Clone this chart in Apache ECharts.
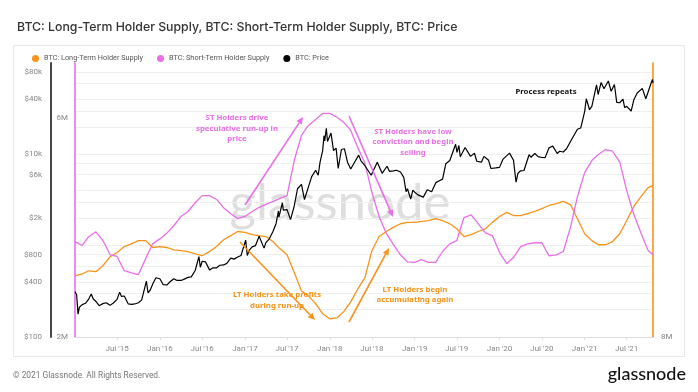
<!DOCTYPE html>
<html><head><meta charset="utf-8">
<script src="https://cdn.jsdelivr.net/npm/echarts@6/dist/echarts.min.js"></script>
<style>html,body{margin:0;padding:0;background:#fff}#c{width:698px;height:392px}</style>
</head><body><div id="c"></div>
<script>
const titleText = 'BTC: Long-Term Holder Supply, BTC: Short-Term Holder Supply, BTC: Price';
const seriesNames = ['BTC: Long-Term Holder Supply', 'BTC: Short-Term Holder Supply', 'BTC: Price'];

const supplyDates = [
 '2015-01-01','2015-02-01','2015-03-01','2015-04-01','2015-05-01','2015-06-01','2015-07-01','2015-08-01','2015-09-01','2015-10-01','2015-11-01','2015-12-01',
 '2016-01-01','2016-02-01','2016-03-01','2016-04-01','2016-05-01','2016-06-01','2016-07-01','2016-08-01','2016-09-01','2016-10-01','2016-11-01','2016-12-01',
 '2017-01-01','2017-02-01','2017-03-01','2017-04-01','2017-05-01','2017-06-01','2017-07-01','2017-08-01','2017-09-01','2017-10-01','2017-11-01','2017-12-01',
 '2018-01-01','2018-02-01','2018-03-01','2018-04-01','2018-05-01','2018-06-01','2018-07-01','2018-08-01','2018-09-01','2018-10-01','2018-11-01','2018-12-01',
 '2019-01-01','2019-02-01','2019-03-01','2019-04-01','2019-05-01','2019-06-01','2019-07-01','2019-08-01','2019-09-01','2019-10-01','2019-11-01','2019-12-01',
 '2020-01-01','2020-02-01','2020-03-01','2020-04-01','2020-05-01','2020-06-01','2020-07-01','2020-08-01','2020-09-01','2020-10-01','2020-11-01','2020-12-01',
 '2021-01-01','2021-02-01','2021-03-01','2021-04-01','2021-05-01','2021-06-01','2021-07-01','2021-08-01','2021-09-01','2021-10-01','2021-10-22'
];
// millions of BTC
const lthSupply = [
 9.34,9.38,9.45,9.43,9.56,9.76,9.85,9.98,10.04,10.11,10.11,9.96,
 9.98,9.96,9.91,9.89,9.87,9.82,9.78,9.87,9.98,10.13,10.22,10.31,
 10.29,10.24,10.22,10.20,10.09,9.93,9.80,9.41,9.01,8.90,8.73,8.51,
 8.40,8.42,8.55,8.77,9.05,9.30,9.89,10.20,10.31,10.40,10.48,10.51,
 10.51,10.53,10.55,10.59,10.55,10.48,10.37,10.20,10.24,10.31,10.37,10.51,
 10.64,10.73,10.66,10.66,10.70,10.75,10.81,10.88,10.92,10.97,10.90,10.59,
 10.26,10.11,10.02,10.02,10.09,10.26,10.55,10.86,11.08,11.27,11.32
];
const sthSupply = [
 3.74,3.67,3.83,3.92,3.76,3.50,3.47,3.21,3.17,3.14,3.43,3.70,
 3.79,3.90,4.03,4.20,4.29,4.45,4.58,4.58,4.51,4.36,4.25,4.16,
 4.20,4.29,4.36,4.42,4.47,4.53,4.58,5.22,5.68,5.86,5.97,6.08,
 6.08,6.01,5.92,5.77,5.46,5.17,4.64,4.20,3.89,3.69,3.50,3.37,
 3.36,3.41,3.36,3.36,3.56,3.70,3.76,4.18,4.23,4.07,3.90,3.85,
 3.54,3.34,3.45,3.65,3.70,3.72,3.72,3.48,3.50,3.56,4.00,4.56,
 5.00,5.22,5.33,5.42,5.39,5.19,4.67,4.23,3.89,3.58,3.50
];

const priceDates = [
 '2015-01-01','2015-01-08','2015-01-14','2015-01-20','2015-02-01','2015-02-15','2015-03-01','2015-03-12','2015-03-20','2015-04-01','2015-04-15','2015-05-01','2015-05-15','2015-06-01','2015-06-15','2015-07-01','2015-07-12','2015-07-20','2015-08-01','2015-08-18','2015-09-01','2015-09-15','2015-10-01','2015-10-15','2015-11-04','2015-11-11','2015-11-20','2015-12-01','2015-12-15',
 '2016-01-01','2016-01-15','2016-02-01','2016-02-15','2016-03-01','2016-03-15','2016-04-01','2016-04-15','2016-05-01','2016-05-15','2016-06-01','2016-06-17','2016-06-23','2016-07-01','2016-07-15','2016-08-02','2016-08-15','2016-09-01','2016-09-15','2016-10-01','2016-10-15','2016-11-01','2016-11-15','2016-12-01','2016-12-15',
 '2017-01-04','2017-01-11','2017-01-20','2017-02-01','2017-02-15','2017-03-03','2017-03-24','2017-04-01','2017-04-15','2017-05-01','2017-05-15','2017-05-25','2017-05-27','2017-06-11','2017-06-15','2017-07-01','2017-07-16','2017-08-01','2017-08-15','2017-09-01','2017-09-14','2017-10-01','2017-10-15','2017-11-01','2017-11-12','2017-11-20','2017-12-01','2017-12-07','2017-12-10','2017-12-17','2017-12-22',
 '2018-01-06','2018-01-17','2018-01-28','2018-02-06','2018-02-20','2018-03-05','2018-03-18','2018-04-01','2018-04-15','2018-05-05','2018-05-15','2018-06-01','2018-06-28','2018-07-24','2018-08-14','2018-09-04','2018-09-15','2018-10-01','2018-10-15','2018-11-01','2018-11-15','2018-11-25','2018-12-01','2018-12-15','2018-12-24',
 '2019-01-01','2019-01-15','2019-02-07','2019-02-24','2019-03-15','2019-04-02','2019-04-15','2019-05-01','2019-05-15','2019-06-01','2019-06-26','2019-07-02','2019-07-10','2019-07-16','2019-08-06','2019-08-29','2019-09-15','2019-09-25','2019-10-15','2019-10-26','2019-11-15','2019-11-25','2019-12-15',
 '2020-01-01','2020-01-15','2020-02-13','2020-03-01','2020-03-12','2020-03-20','2020-04-01','2020-04-15','2020-05-07','2020-05-15','2020-06-01','2020-06-15','2020-07-01','2020-07-15','2020-08-01','2020-08-17','2020-09-05','2020-09-15','2020-10-01','2020-10-15','2020-11-01','2020-11-15','2020-12-01','2020-12-15',
 '2021-01-01','2021-01-08','2021-01-22','2021-02-01','2021-02-21','2021-02-28','2021-03-13','2021-03-25','2021-04-13','2021-04-25','2021-05-09','2021-05-19','2021-06-01','2021-06-15','2021-06-22','2021-07-01','2021-07-20','2021-08-01','2021-08-15','2021-09-06','2021-09-21','2021-10-01','2021-10-15','2021-10-20','2021-10-22'
];
const priceValues = [
 314,290,178,212,226,234,260,295,262,245,220,232,237,222,236,258,310,278,281,230,228,230,237,255,410,305,325,378,445,
 434,375,372,405,435,416,416,430,450,455,535,760,580,675,665,540,570,572,610,615,640,730,712,752,780,
 1150,780,895,970,1000,1270,940,1080,1180,1420,1750,2400,2050,2950,2450,2480,1930,2720,4200,4700,3200,4400,5700,6700,5900,8200,10900,16000,14000,19300,13800,
 17100,11000,11700,7000,11300,11500,8200,6900,8000,9800,8500,7500,5900,8200,6200,7400,6500,6600,6700,6400,5600,3900,4200,3230,4050,
 3850,3600,3400,4100,3900,4900,5100,5350,7900,8550,12900,10500,12500,9400,11900,9500,10300,8400,8200,9500,8600,7000,7100,
 7200,8800,10300,8600,4950,6200,6600,6650,9900,9300,10200,9450,9230,9200,11800,12300,10200,10800,10600,11500,13800,16000,18800,19400,
 29400,40600,30800,33500,57500,45200,61200,52300,63500,49000,58200,37000,36700,40200,32500,33500,29800,39900,47000,52700,40600,48200,61500,66000,60700
];

const priceTickLabels = [100, 400, 800, 2000, 6000, 10000, 40000, 80000];
const priceGridValues = [200, 300, 400, 600, 800, 1000, 2000, 3000, 4000, 6000, 8000, 10000, 20000, 30000, 40000, 60000, 80000];
const sthTickLabels = [2, 6];
const lthTickLabels = [8];
const xTickDates = ['2015-07-01','2016-01-01','2016-07-01','2017-01-01','2017-07-01','2018-01-01','2018-07-01','2019-01-01','2019-07-01','2020-01-01','2020-07-01','2021-01-01','2021-07-01'];
const xRange = ['2015-01-01', '2021-10-22'];

const ORANGE = '#f7931a', PINK = '#e86fe8', BLACK = '#000000';
const FONT = 'Roboto';
const ts = d => +echarts.time.parse(d);

function arrow(x1, y1, x2, y2, color) {
  const ang = Math.atan2(y2 - y1, x2 - x1), L = 7, W = 3.2;
  const bx = x2 - L * Math.cos(ang), by = y2 - L * Math.sin(ang);
  const px = -Math.sin(ang) * W, py = Math.cos(ang) * W;
  return [
    { type: 'line', z: 100, shape: { x1: x1, y1: y1, x2: bx, y2: by }, style: { stroke: color, lineWidth: 1.6 } },
    { type: 'polygon', z: 100, shape: { points: [[x2, y2], [bx + px, by + py], [bx - px, by - py]] }, style: { fill: color } }
  ];
}
function note(text, x, y, color) {
  return { type: 'text', z: 100, x: x, y: y, style: { text: text, fill: color, font: 'bold 7.8px "Noto Sans"', align: 'center', verticalAlign: 'middle', lineHeight: 10.5 } };
}

const chart = echarts.init(document.getElementById('c'), null, { renderer: 'canvas' });
const fmtPrice = v => '$' + (v >= 1000 ? (v / 1000) + 'k' : v);
const xTicks = xTickDates.map(ts);

chart.setOption({
  animation: false,
  backgroundColor: '#fff',
  textStyle: { fontFamily: FONT },
  title: { text: titleText, left: 12, top: 16, textStyle: { fontSize: 12.3, fontWeight: 500, color: '#333', fontFamily: 'Inter' } },
  legend: {
    left: 27, top: 50, itemWidth: 7, itemHeight: 7, itemGap: 14, icon: 'circle',
    textStyle: { fontSize: 7.3, color: '#555', fontFamily: FONT },
    data: seriesNames
  },
  grid: { left: 75, right: 45, top: 63, bottom: 55, containLabel: false },
  xAxis: {
    type: 'value', min: ts(xRange[0]), max: ts(xRange[1]),
    axisLine: { lineStyle: { color: '#dedede' } },
    axisTick: { show: true, length: 3, lineStyle: { color: '#dedede' }, customValues: xTicks },
    axisLabel: {
      customValues: xTicks, fontSize: 8, color: '#888', margin: 8, hideOverlap: false,
      formatter: v => { const d = new Date(v); return (d.getMonth() === 0 ? 'Jan' : 'Jul') + " '" + String(d.getFullYear()).slice(2); }
    },
    splitLine: { show: false }
  },
  yAxis: [
    {
      type: 'log', logBase: 10, min: 100, max: 100000, position: 'left', offset: 24,
      axisLine: { show: true, lineStyle: { color: '#333', width: 1.8 } },
      axisTick: { show: false, customValues: priceGridValues },
      axisLabel: { customValues: priceTickLabels, formatter: fmtPrice, fontSize: 8, color: '#888', margin: 9, hideOverlap: false },
      splitLine: { show: true, lineStyle: { color: '#efefef', width: 1 } }
    },
    {
      type: 'value', min: 2, max: 7, position: 'left', offset: 0,
      axisLine: { show: true, lineStyle: { color: PINK, width: 1.6 } },
      axisTick: { show: false },
      axisLabel: { customValues: sthTickLabels, formatter: v => v + 'M', fontSize: 8, color: '#888', margin: 7 },
      splitLine: { show: false }
    },
    {
      type: 'value', min: 8, max: 14, position: 'right', offset: 0,
      axisLine: { show: true, lineStyle: { color: ORANGE, width: 1.6 } },
      axisTick: { show: false },
      axisLabel: { customValues: lthTickLabels, formatter: v => v + 'M', fontSize: 8, color: '#888', margin: 8 },
      splitLine: { show: false }
    }
  ],
  series: [
    { name: seriesNames[0], type: 'line', yAxisIndex: 2, showSymbol: false, symbol: 'circle', color: ORANGE,
      lineStyle: { width: 1.3, color: ORANGE }, data: supplyDates.map((d, i) => [ts(d), lthSupply[i]]) },
    { name: seriesNames[1], type: 'line', yAxisIndex: 1, showSymbol: false, symbol: 'circle', color: PINK,
      lineStyle: { width: 1.3, color: PINK }, data: supplyDates.map((d, i) => [ts(d), sthSupply[i]]) },
    { name: seriesNames[2], type: 'line', yAxisIndex: 0, showSymbol: false, symbol: 'circle', color: BLACK,
      lineStyle: { width: 1.2, color: BLACK }, data: priceDates.map((d, i) => [ts(d), priceValues[i]]) }
  ],
  graphic: [].concat(
    [
      { type: 'rect', z: -10, shape: { x: 13.5, y: 45.5, width: 671, height: 311 }, style: { fill: '#fff', stroke: '#e8e8e8', lineWidth: 1 } },
      { type: 'text', z: -5, x: 340, y: 204, style: { text: 'glassnode', fill: '#dedede', font: '51px Lato', align: 'center', verticalAlign: 'middle' } },
      note('ST Holders drive\nspeculative run-up in\nprice', 237, 128.5, PINK),
      note('ST Holders have low\nconviction and begin\nselling', 413, 142, PINK),
      note('LT Holders take profits\nduring run-up', 277, 300.5, ORANGE),
      note('LT Holders begin\naccumulating again', 415, 295, ORANGE),
      note('Process repeats', 546, 92, '#111'),
      { type: 'text', x: 13, y: 375.5, style: { text: '\u00a9 2021 Glassnode. All Rights Reserved.', fill: '#777', font: '8.4px Roboto', verticalAlign: 'middle' } },
      { type: 'text', x: 686, y: 374, style: { text: 'glassnode', fill: '#111', font: '500 18px Lato', align: 'right', verticalAlign: 'middle' } }
    ],
    arrow(245, 205, 303, 117, PINK),
    arrow(349, 116, 393, 217, PINK),
    arrow(240, 242, 315, 320, ORANGE),
    arrow(349, 322, 389, 248, ORANGE)
  )
});
</script>
</body></html>
